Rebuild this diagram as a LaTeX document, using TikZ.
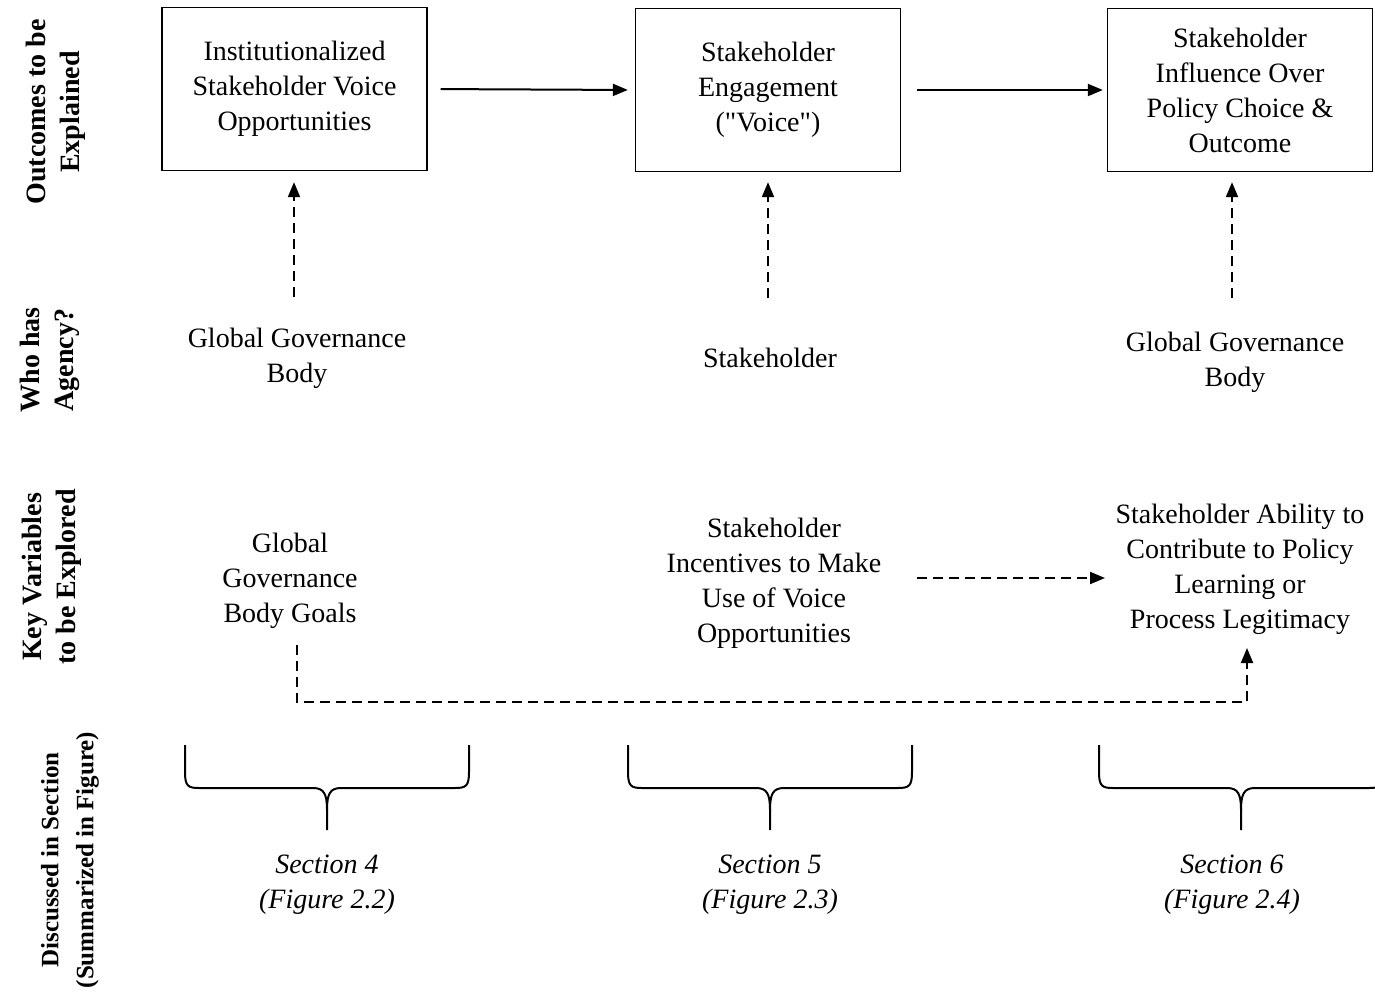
\documentclass[tikz,border=0pt]{standalone}
\usepackage{fontspec}
\setmainfont{Liberation Serif}
\newfontfamily\qfont{Liberation Serif}[Ligatures=TeXOff]
\usetikzlibrary{arrows.meta}
\tikzset{
  body/.style={font=\fontsize{28}{35}\selectfont, align=center, inner sep=0pt},
  boxnode/.style={body, draw, line width=1.3pt, minimum width=265pt, minimum height=163pt},
  rowlabel/.style={font=\fontsize{28}{34}\selectfont\bfseries, align=center, rotate=90, inner sep=0pt},
  secnode/.style={body, font=\fontsize{28}{35}\selectfont\itshape},
  solidarrow/.style={line width=2pt, -{Triangle[length=15pt,width=12pt]}},
  dasharrow/.style={line width=2pt, dash pattern=on 10pt off 6pt, -{Triangle[length=15pt,width=12pt]}},
  bracepath/.style={line width=2pt},
  pics/mybrace/.style={code={
    \draw[bracepath] (-142,745) -- (-142,772) .. controls (-142,786) and (-139,788) .. (-128,788)
      -- (-14,788) .. controls (-3,788) and (0,794) .. (0,810) -- (0,830);
    \draw[bracepath] (142,745) -- (142,772) .. controls (142,786) and (139,788) .. (128,788)
      -- (14,788) .. controls (3,788) and (0,794) .. (0,810);
  }}
}
\begin{document}
\begin{tikzpicture}[x=1pt,y=-1pt]
\useasboundingbox (0,0) rectangle (1375,999);
% row labels
\node[rowlabel] (L1) at (56,112) {Outcomes to be\\Explained};
\node[rowlabel] (L2) at (50,360) {Who has\\Agency?};
\node[rowlabel] (L3) at (52,577) {Key Variables\\to be Explored};
\node[rowlabel, font=\fontsize{25}{35}\selectfont\bfseries] (L4) at (70,860) {Discussed in Section\\(Summarized in Figure)};
% boxes
\node[boxnode] (b1) at (294.5,89) {Institutionalized\\Stakeholder Voice\\Opportunities};
\node[boxnode] (b2) at (768,90) {Stakeholder\\Engagement\\({\qfont"}Voice{\qfont"})};
\node[boxnode] (b3) at (1240,90) {Stakeholder\\Influence Over\\Policy Choice \&\\Outcome};
\draw[solidarrow, shorten <=13pt, shorten >=7pt] (b1.east) -- (b2.west);
\draw[solidarrow, shorten <=16pt, shorten >=4pt] (b2.east) -- (b3.west);
% agency
\node[body] (a1) at (297,358) {Global Governance\\Body};
\node[body] (a2) at (770,358) {Stakeholder};
\node[body] (a3) at (1235,362) {Global Governance\\Body};
\coordinate (s1) at (294,297);
\coordinate (s2) at (768,298);
\coordinate (s3) at (1232,298);
\draw[dasharrow, shorten >=11pt] (s1) -- (s1 |- b1.south);
\draw[dasharrow, shorten >=10pt] (s2) -- (s2 |- b2.south);
\draw[dasharrow, shorten >=10pt] (s3) -- (s3 |- b3.south);
% key variables
\node[body] (k1) at (290,581) {Global\\Governance\\Body Goals};
\node[body] (k2) at (774,583) {Stakeholder\\Incentives to Make\\Use of Voice\\Opportunities};
\node[body] (k3) at (1240,569) {Stakeholder Ability to\\Contribute to Policy\\Learning or\\Process Legitimacy};
\coordinate (h1) at (917,578);
\coordinate (h2) at (1105,578);
\draw[dasharrow] (h1) -- (h2);
\coordinate (g1) at (297,645);
\coordinate (g2) at (1247,648);
\draw[dasharrow] (g1) -- (297,702) -- (1247,702) -- (g2);
% braces
\pic at (327,0) {mybrace};
\pic at (770,0) {mybrace};
\pic at (1241,0) {mybrace};
% sections
\node[secnode] (c1) at (327,885) {Section 4\\(Figure 2.2)};
\node[secnode] (c2) at (770,885) {Section 5\\(Figure 2.3)};
\node[secnode] (c3) at (1232,885) {Section 6\\(Figure 2.4)};
\end{tikzpicture}
\end{document}
